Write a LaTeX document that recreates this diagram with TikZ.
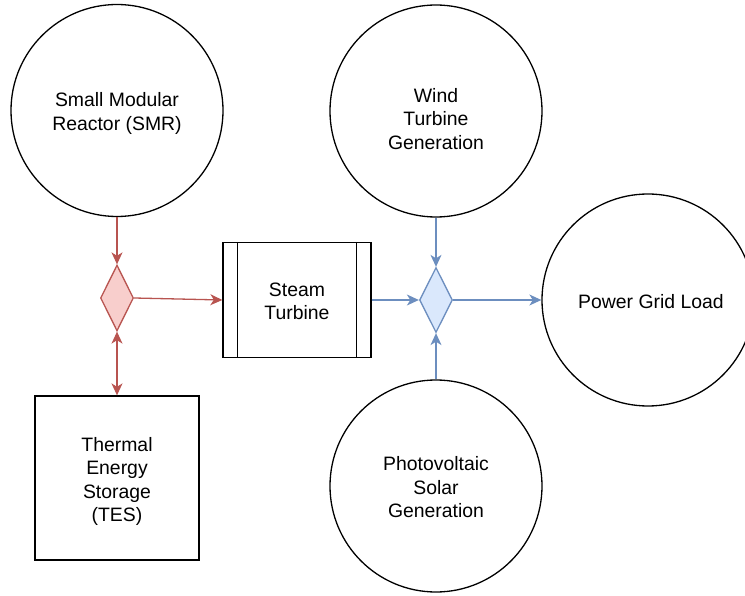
\documentclass[tikz,border=0pt]{standalone}
\usepackage{fontspec}
\setmainfont{Liberation Sans}
\usetikzlibrary{shapes.geometric,arrows.meta}
\definecolor{redline}{HTML}{B85450}
\definecolor{redfill}{HTML}{F8CECC}
\definecolor{blueline}{HTML}{6C8EBF}
\definecolor{bluefill}{HTML}{DAE8FC}
\tikzset{
  every node/.style={font=\fontsize{19.4}{23.5}\selectfont, align=center},
  bigcircle/.style={circle, draw=black, line width=1.3pt, minimum size=212pt, inner sep=0pt},
  boxnode/.style={rectangle, draw=black, line width=1.3pt, inner sep=0pt},
  txt/.style={inner sep=0pt},
  reddia/.style={diamond, draw=redline, fill=redfill, line width=1.3pt, minimum width=33pt, minimum height=66pt, inner sep=0pt},
  bluedia/.style={diamond, draw=blueline, fill=bluefill, line width=1.3pt, minimum width=33pt, minimum height=65pt, inner sep=0pt},
  tip/.style={-{Stealth[length=12pt,width=11pt,inset=3.5pt]}},
  bothtips/.style={{Stealth[length=12pt,width=11pt,inset=3.5pt]}-{Stealth[length=12pt,width=11pt,inset=3.5pt]}},
  redarrow/.style={draw=redline, line width=1.3pt},
  bluearrow/.style={draw=blueline, line width=1.3pt},
}
\begin{document}
\begin{tikzpicture}[x=1pt,y=-1pt]
\useasboundingbox (0,0) rectangle (745,596);
\clip (0,0) rectangle (745,596);
\node[bigcircle] (smr) at (117,110.5) {};
\node[txt] (smrtxt) at ([yshift=-3pt]smr.center) {Small Modular\\Reactor (SMR)};
\node[bigcircle] (wind) at (436,111) {};
\node[txt] (windtxt) at ([yshift=-8pt]wind.center) {Wind\\Turbine\\Generation};
\node[bigcircle] (pv) at (436,486) {};
\node[txt] (pvtxt) at ([yshift=-1.5pt]pv.center) {Photovoltaic\\Solar\\Generation};
\node[bigcircle] (grid) at (648,300) {};
\node[txt] (gridtxt) at ([xshift=3pt,yshift=-2pt]grid.center) {Power Grid Load};
\node[reddia] (d1) at (117,298) {};
\node[bluedia] (d2) at (436,300) {};
\node[boxnode, minimum width=148pt, minimum height=115pt] (st) at (297,300) {};
\node[txt] (sttxt) at ([yshift=-1.5pt]st.center) {Steam\\Turbine};
\draw[line width=1.3pt] ([xshift=15pt]st.north west) -- ([xshift=15pt]st.south west);
\draw[line width=1.3pt] ([xshift=-15pt]st.north east) -- ([xshift=-15pt]st.south east);
\node[boxnode, minimum width=164pt, minimum height=164pt] (tes) at (117,478) {};
\node[txt] (testxt) at ([yshift=-3.5pt]tes.center) {Thermal\\Energy\\Storage\\(TES)};
\draw[redarrow, tip] (smr.south) -- (d1.north);
\draw[redarrow, tip] (d1.east) -- (st.west);
\draw[redarrow, bothtips] (d1.south) -- (tes.north);
\draw[bluearrow, tip] (st.east) -- (d2.west);
\draw[bluearrow, tip] (wind.south) -- (d2.north);
\draw[bluearrow, tip] (pv.north) -- (d2.south);
\draw[bluearrow, tip] (d2.east) -- (grid.west);
\end{tikzpicture}
\end{document}
